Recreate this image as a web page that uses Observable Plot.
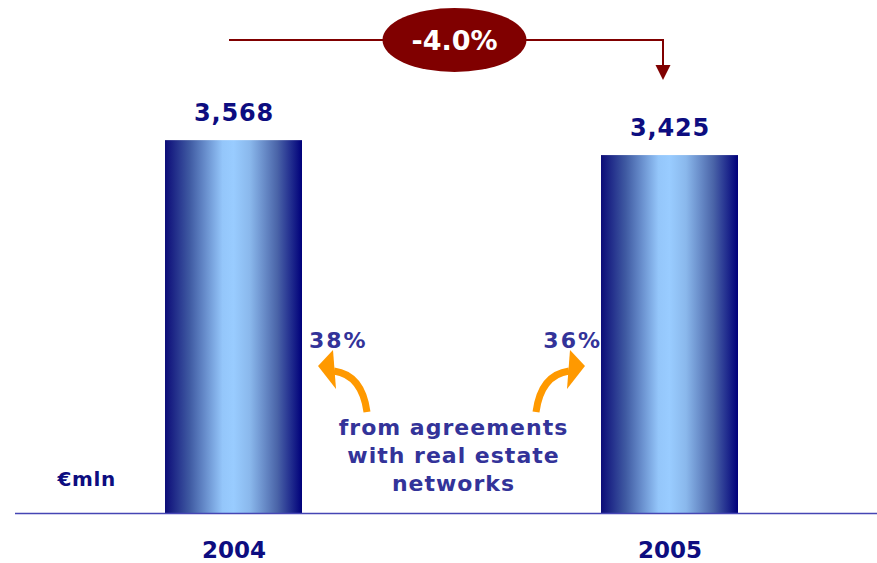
<!DOCTYPE html>
<html>
<head>
<meta charset="utf-8">
<script src="https://cdn.jsdelivr.net/npm/d3@7"></script>
<script src="https://cdn.jsdelivr.net/npm/@observablehq/plot@0.6"></script>
<style>
  html, body { margin: 0; padding: 0; background: #ffffff; }
  svg { display: block; }
</style>
</head>
<body>
<div id="chart"></div>
<script>
// ---- data ----
const years = ["2004", "2005"];
const values = [3568, 3425];
const valueLabels = ["3,568", "3,425"];
const shareLabels = ["38%", "36%"];
const changeLabel = "-4.0%";
const unitLabel = "€mln";
const noteLines = ["from agreements", "with real estate", "networks"];

const data = years.map((year, i) => ({year, value: values[i], label: valueLabels[i]}));

const font = "'DejaVu Sans', Verdana, sans-serif";
const navy = "#0d0d80";
const slate = "#333399";
const maroon = "#800000";
const orange = "#ff9900";

const chart = Plot.plot({
  width: 877,
  height: 563,
  marginTop: 0,
  marginRight: 0,
  marginBottom: 50,
  marginLeft: 15,
  style: {fontFamily: font, background: "#ffffff", overflow: "visible"},
  x: {type: "band", domain: years, range: [165, 738.3], paddingInner: 0.6858, paddingOuter: 0, axis: null},
  y: {domain: [0, 4909], axis: null},
  marks: [
    Plot.barY(data, {x: "year", y: "value", fill: "url(#barGrad)"}),
    Plot.ruleY([0], {stroke: "#4646b4", strokeWidth: 1.5}),
    Plot.text(data, {x: "year", y: "value", text: "label", dy: -27, fontSize: 24, fontWeight: "bold", fill: navy, ariaLabel: () => "value-labels"}),
    Plot.text(data, {x: "year", frameAnchor: "bottom", text: "year", dy: 44, fontSize: 23, fontWeight: "bold", fill: navy}),
    Plot.text([unitLabel], {frameAnchor: "bottom-left", text: d => d, textAnchor: "start", dx: 42, dy: -28, fontSize: 20, fontWeight: "bold", fill: navy, ariaLabel: () => "unit-label"}),
    Plot.text([noteLines.join("\n")], {frameAnchor: "bottom", text: d => d, dx: 7, dy: -23, lineHeight: 1.27, fontSize: 22, fontWeight: "bold", fill: slate, ariaLabel: () => "note"})
  ]
});

document.getElementById("chart").appendChild(chart);

// ---- gradient + annotations drawn with the chart's own scales ----
const svg = d3.select(chart);
svg.selectAll('[aria-label="value-labels"]').style("letter-spacing", "0.8px");
svg.selectAll('[aria-label="unit-label"]').style("letter-spacing", "0.6px");
svg.selectAll('[aria-label="note"]').style("letter-spacing", "1px");

const defs = svg.insert("defs", ":first-child");
const g = defs.append("linearGradient").attr("id", "barGrad").attr("x1", 0).attr("x2", 1).attr("y1", 0).attr("y2", 0);
[[0, "#0c0c78"], [0.18, "#3f5aa2"], [0.42, "#94c6fa"], [0.5, "#99ccff"], [0.62, "#8ab8ec"], [0.82, "#4a64a8"], [1, "#00007a"]]
  .forEach(([o, c]) => g.append("stop").attr("offset", o).attr("stop-color", c));

const xs = chart.scale("x");
const ys = chart.scale("y");
const bw = xs.bandwidth;
const x0 = xs.apply(years[0]), x1 = xs.apply(years[1]);
const c0 = x0 + bw / 2, c1 = x1 + bw / 2;
const base = ys.apply(0);

// change connector (top)
const topY = 40;
const ann = svg.append("g");
ann.append("path")
  .attr("d", `M${c0 - 4.5},${topY} H${c1 - 6.5} V${topY + 27}`)
  .attr("fill", "none").attr("stroke", maroon).attr("stroke-width", 2);
ann.append("path")
  .attr("d", `M${c1 - 14},${topY + 25} L${c1 + 1},${topY + 25} L${c1 - 6.5},${topY + 40} Z`)
  .attr("fill", maroon);
const ex = (c0 + c1) / 2 + 3;
ann.append("ellipse").attr("cx", ex).attr("cy", topY).attr("rx", 72).attr("ry", 32).attr("fill", maroon);
ann.append("text").attr("x", ex).attr("y", topY + 10).attr("text-anchor", "middle")
  .attr("font-family", font).attr("font-size", 27).attr("font-weight", "bold").attr("fill", "#ffffff")
  .text(changeLabel);

// share labels beside the bars
const shareY = base - 174;
ann.append("text").attr("x", x0 + bw + 7).attr("y", shareY + 9).attr("text-anchor", "start")
  .attr("font-family", font).attr("font-size", 22).attr("font-weight", "bold").attr("fill", slate)
  .style("letter-spacing", "2px").text(shareLabels[0]);
ann.append("text").attr("x", x1 + 1).attr("y", shareY + 9).attr("text-anchor", "end")
  .attr("font-family", font).attr("font-size", 22).attr("font-weight", "bold").attr("fill", slate)
  .style("letter-spacing", "2px").text(shareLabels[1]);

// orange curved arrows (mirrored)
function orangeArrow(sign) {
  const R = sign < 0 ? x0 + bw : x1;           // bar edge
  const X = dx => sign < 0 ? R + dx : R - dx;  // offset from edge (left arrow) / mirror
  const tailY = base - 101, bodyEndY = base - 142;
  ann.append("path")
    .attr("d", `M${X(65)},${tailY} Q${X(60)},${base - 138} ${X(32)},${bodyEndY}`)
    .attr("fill", "none").attr("stroke", orange).attr("stroke-width", 7);
  ann.append("path")
    .attr("d", `M${X(16)},${base - 147} L${X(31)},${base - 163} L${X(34)},${base - 124} Z`)
    .attr("fill", orange);
}
orangeArrow(-1);
orangeArrow(1);
</script>
</body>
</html>
